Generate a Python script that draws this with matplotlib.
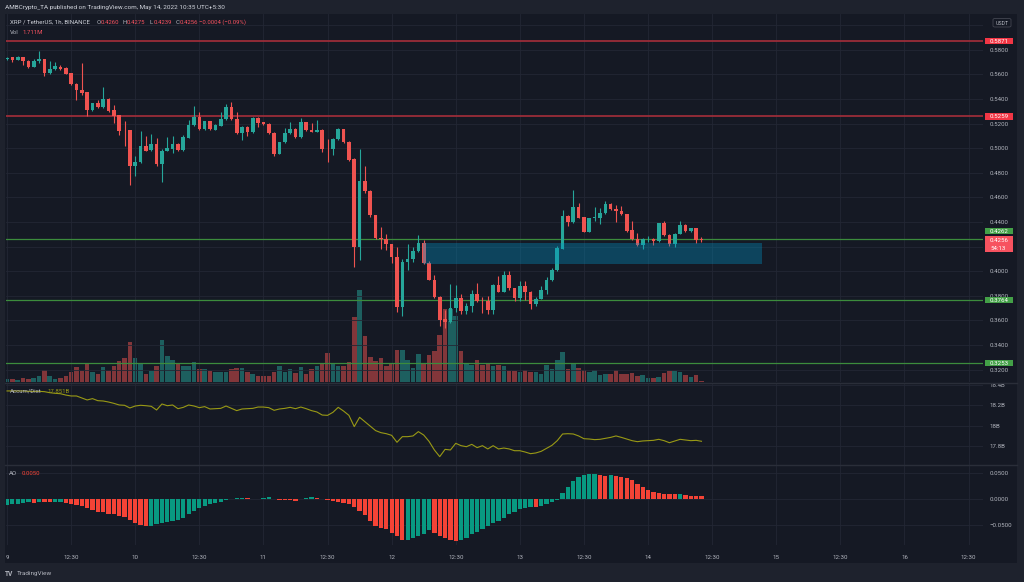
import numpy as np
import matplotlib.pyplot as plt
from matplotlib.colors import to_rgba
from matplotlib.lines import Line2D
from matplotlib.patches import Rectangle, FancyBboxPatch

plt.rcParams['font.family'] = ['Roboto', 'DejaVu Sans']

# -------------------------------
# 1. Data (XRP/USDT 1h)
# -------------------------------
opens = [
    0.5725, 0.5741, 0.5719, 0.5741, 0.5711, 0.5665, 0.5711, 0.5725, 0.5612, 0.5644,
    0.5665, 0.5649, 0.5612, 0.5522, 0.5476, 0.5454, 0.5314, 0.5368, 0.5333, 0.5401,
    0.5308, 0.5268, 0.5150, 0.5146, 0.4854, 0.4887, 0.5016, 0.4984, 0.5038, 0.4868,
    0.4981, 0.4998, 0.5038, 0.4984, 0.5084, 0.5192, 0.5255, 0.5157, 0.5219, 0.5152,
    0.5184, 0.5239, 0.5336, 0.5241, 0.5125, 0.5174, 0.5130, 0.5247, 0.5211, 0.5198,
    0.5125, 0.4955, 0.5049, 0.5125, 0.5157, 0.5089, 0.5211, 0.5152, 0.5133, 0.5152,
    0.4998, 0.4998, 0.5076, 0.5157, 0.5052, 0.4914, 0.4200, 0.4732, 0.4651, 0.4454,
    0.4273, 0.4260, 0.4219, 0.4116, 0.3711, 0.4076, 0.4097, 0.4165, 0.4227, 0.4065,
    0.3930, 0.3792, 0.3611, 0.3589, 0.3700, 0.3779, 0.3678, 0.3719, 0.3814, 0.3759,
    0.3754, 0.3684, 0.3889, 0.3835, 0.3968, 0.3860, 0.3781, 0.3876, 0.3832, 0.3732,
    0.3773, 0.3848, 0.3927, 0.4011, 0.4184, 0.4449, 0.4400, 0.4522, 0.4441, 0.4319,
    0.4436, 0.4430, 0.4471, 0.4549, 0.4509, 0.4489, 0.4462, 0.4333, 0.4260, 0.4211,
    0.4262, 0.4260, 0.4246, 0.4389, 0.4295, 0.4219, 0.4306, 0.4373, 0.4327, 0.4349,
    0.4260,
]
highs = [
    0.5745, 0.5745, 0.5750, 0.5745, 0.5719, 0.5730, 0.5792, 0.5730, 0.5706, 0.5698,
    0.5675, 0.5663, 0.5615, 0.5530, 0.5693, 0.5460, 0.5370, 0.5395, 0.5495, 0.5405,
    0.5354, 0.5270, 0.5225, 0.5150, 0.4935, 0.5138, 0.5097, 0.5117, 0.5084, 0.4990,
    0.5093, 0.5097, 0.5045, 0.5111, 0.5233, 0.5346, 0.5295, 0.5225, 0.5225, 0.5195,
    0.5295, 0.5363, 0.5379, 0.5295, 0.5180, 0.5180, 0.5255, 0.5255, 0.5215, 0.5205,
    0.5130, 0.5055, 0.5166, 0.5216, 0.5165, 0.5247, 0.5215, 0.5206, 0.5233, 0.5160,
    0.5079, 0.5080, 0.5165, 0.5160, 0.5060, 0.4920, 0.4990, 0.4852, 0.4660, 0.4460,
    0.4360, 0.4306, 0.4225, 0.4197, 0.4103, 0.4225, 0.4200, 0.4292, 0.4254, 0.4083,
    0.3968, 0.3800, 0.3686, 0.3895, 0.3886, 0.3814, 0.3740, 0.3848, 0.3908, 0.3787,
    0.3795, 0.3895, 0.3962, 0.4003, 0.4003, 0.3865, 0.3922, 0.3922, 0.3840, 0.3787,
    0.3881, 0.3954, 0.4030, 0.4205, 0.4495, 0.4455, 0.4659, 0.4552, 0.4445, 0.4435,
    0.4525, 0.4517, 0.4570, 0.4555, 0.4535, 0.4530, 0.4465, 0.4408, 0.4314, 0.4273,
    0.4285, 0.4270, 0.4395, 0.4408, 0.4300, 0.4310, 0.4408, 0.4380, 0.4355, 0.4355,
    0.4275,
]
lows = [
    0.5720, 0.5698, 0.5715, 0.5679, 0.5652, 0.5660, 0.5693, 0.5584, 0.5605, 0.5640,
    0.5640, 0.5600, 0.5518, 0.5389, 0.5435, 0.5265, 0.5300, 0.5330, 0.5330, 0.5292,
    0.5206, 0.5106, 0.5022, 0.4700, 0.4773, 0.4880, 0.4975, 0.4980, 0.4854, 0.4724,
    0.4975, 0.4963, 0.4980, 0.4980, 0.5080, 0.5185, 0.5150, 0.5150, 0.5150, 0.5145,
    0.5180, 0.5230, 0.5230, 0.5120, 0.5065, 0.5097, 0.5125, 0.5176, 0.5190, 0.5120,
    0.4935, 0.4950, 0.5045, 0.5120, 0.5085, 0.5080, 0.5140, 0.5130, 0.5130, 0.4968,
    0.4887, 0.4949, 0.5070, 0.5045, 0.4900, 0.4035, 0.4092, 0.4636, 0.4445, 0.4260,
    0.4178, 0.4170, 0.4065, 0.3668, 0.3638, 0.4011, 0.4076, 0.4160, 0.4060, 0.3925,
    0.3785, 0.3557, 0.3540, 0.3580, 0.3665, 0.3651, 0.3651, 0.3670, 0.3750, 0.3657,
    0.3651, 0.3651, 0.3830, 0.3830, 0.3850, 0.3759, 0.3760, 0.3768, 0.3692, 0.3719,
    0.3770, 0.3811, 0.3920, 0.4005, 0.4180, 0.4368, 0.4395, 0.4430, 0.4315, 0.4315,
    0.4408, 0.4381, 0.4465, 0.4495, 0.4400, 0.4455, 0.4320, 0.4255, 0.4205, 0.4178,
    0.4240, 0.4211, 0.4240, 0.4290, 0.4205, 0.4200, 0.4300, 0.4320, 0.4320, 0.4232,
    0.4239,
]
closes = [
    0.5738, 0.5719, 0.5746, 0.5711, 0.5660, 0.5711, 0.5725, 0.5616, 0.5646, 0.5671,
    0.5646, 0.5608, 0.5522, 0.5470, 0.5449, 0.5314, 0.5368, 0.5333, 0.5401, 0.5306,
    0.5260, 0.5144, 0.5146, 0.4854, 0.4887, 0.5016, 0.4981, 0.5038, 0.4868, 0.4981,
    0.5003, 0.5038, 0.4984, 0.5093, 0.5192, 0.5255, 0.5160, 0.5219, 0.5157, 0.5187,
    0.5239, 0.5336, 0.5239, 0.5125, 0.5174, 0.5133, 0.5247, 0.5206, 0.5198, 0.5125,
    0.4955, 0.5049, 0.5125, 0.5157, 0.5089, 0.5211, 0.5146, 0.5133, 0.5152, 0.4998,
    0.4995, 0.5076, 0.5157, 0.5052, 0.4908, 0.4197, 0.4732, 0.4651, 0.4454, 0.4268,
    0.4260, 0.4219, 0.4116, 0.3711, 0.4076, 0.4097, 0.4165, 0.4227, 0.4065, 0.3930,
    0.3792, 0.3605, 0.3589, 0.3700, 0.3779, 0.3678, 0.3719, 0.3814, 0.3759, 0.3756,
    0.3684, 0.3889, 0.3835, 0.3968, 0.3860, 0.3781, 0.3876, 0.3832, 0.3732, 0.3773,
    0.3848, 0.3927, 0.4011, 0.4192, 0.4449, 0.4400, 0.4522, 0.4436, 0.4319, 0.4430,
    0.4441, 0.4471, 0.4549, 0.4509, 0.4489, 0.4462, 0.4327, 0.4260, 0.4211, 0.4260,
    0.4265, 0.4246, 0.4389, 0.4295, 0.4219, 0.4306, 0.4373, 0.4327, 0.4349, 0.4254,
    0.4256,
]
# volume in millions of XRP
volume_m = [
    4.3, 5.3, 2.7, 6.9, 5.3, 6.4, 9.6, 18.7, 9.1, 4.3,
    6.9, 9.1, 15.5, 24.0, 17.1, 30.4, 15.5, 12.3, 24.0, 17.6,
    25.1, 33.1, 38.9, 64.0, 38.9, 29.9, 12.3, 18.1, 26.1, 67.7,
    42.1, 35.7, 28.3, 25.1, 25.1, 32.5, 21.3, 21.3, 18.1, 15.5,
    15.5, 16.5, 20.8, 22.4, 21.9, 15.5, 12.3, 9.1, 9.1, 10.1,
    16.5, 26.1, 15.5, 21.3, 13.9, 24.0, 12.5, 20.3, 25.6, 29.6,
    46.4, 29.1, 26.4, 26.4, 32.8, 104.0, 146.7, 73.6, 40.0, 33.6,
    38.9, 25.6, 30.9, 50.7, 50.7, 35.7, 22.4, 44.3, 29.3, 42.7,
    49.6, 74.7, 116.3, 117.3, 106.1, 49.1, 29.3, 26.7, 34.7, 26.7,
    29.3, 25.6, 27.7, 25.6, 17.1, 17.6, 16.0, 18.7, 16.0, 16.0,
    13.3, 26.7, 21.3, 35.7, 48.0, 21.3, 29.3, 22.4, 18.7, 16.0,
    18.7, 11.2, 13.3, 13.3, 18.7, 13.3, 13.3, 14.4, 9.1, 10.7,
    6.4, 6.4, 7.5, 14.4, 17.6, 17.1, 16.0, 10.7, 8.0, 10.7,
    1.711,
]
# Accumulation/Distribution in billions
accum_dist = [
    18.342, 18.342, 18.342, 18.342, 18.338, 18.338, 18.338, 18.335, 18.325, 18.319,
    18.315, 18.302, 18.293, 18.293, 18.273, 18.254, 18.267, 18.247, 18.244, 18.234,
    18.221, 18.205, 18.202, 18.176, 18.195, 18.202, 18.198, 18.192, 18.156, 18.215,
    18.198, 18.205, 18.169, 18.182, 18.205, 18.195, 18.179, 18.189, 18.166, 18.169,
    18.172, 18.195, 18.172, 18.150, 18.166, 18.169, 18.172, 18.185, 18.185, 18.179,
    18.153, 18.166, 18.172, 18.182, 18.169, 18.185, 18.169, 18.150, 18.137, 18.107,
    18.104, 18.133, 18.182, 18.146, 18.104, 17.994, 18.085, 18.042, 18.000, 17.955,
    17.935, 17.925, 17.909, 17.841, 17.896, 17.896, 17.903, 17.945, 17.912, 17.850,
    17.766, 17.701, 17.772, 17.766, 17.831, 17.808, 17.798, 17.821, 17.789, 17.808,
    17.776, 17.808, 17.776, 17.785, 17.776, 17.759, 17.759, 17.746, 17.730, 17.737,
    17.753, 17.782, 17.811, 17.857, 17.922, 17.925, 17.922, 17.903, 17.876, 17.873,
    17.867, 17.870, 17.880, 17.889, 17.903, 17.889, 17.873, 17.857, 17.847, 17.854,
    17.857, 17.860, 17.870, 17.857, 17.837, 17.854, 17.870, 17.863, 17.857, 17.860,
    17.851,
]
# Awesome Oscillator
ao_values = [
    -0.0115, -0.0103, -0.0090, -0.0077, -0.0064, -0.0071, -0.0051, -0.0058, -0.0064, -0.0058,
    -0.0051, -0.0077, -0.0096, -0.0115, -0.0141, -0.0179, -0.0218, -0.0250, -0.0256, -0.0282,
    -0.0295, -0.0321, -0.0346, -0.0404, -0.0468, -0.0500, -0.0519, -0.0513, -0.0487, -0.0455,
    -0.0436, -0.0423, -0.0404, -0.0359, -0.0295, -0.0231, -0.0179, -0.0128, -0.0090, -0.0071,
    -0.0051, -0.0026, -0.0006, 0.0019, 0.0026, 0.0019, 0.0006, 0.0000, 0.0013, 0.0032,
    0.0000, -0.0013, -0.0019, -0.0026, -0.0032, -0.0006, 0.0026, 0.0032, 0.0026, 0.0006,
    -0.0013, -0.0038, -0.0058, -0.0071, -0.0096, -0.0160, -0.0231, -0.0308, -0.0423, -0.0513,
    -0.0551, -0.0583, -0.0647, -0.0718, -0.0795, -0.0788, -0.0750, -0.0705, -0.0667, -0.0603,
    -0.0654, -0.0705, -0.0744, -0.0782, -0.0808, -0.0795, -0.0744, -0.0679, -0.0628, -0.0577,
    -0.0526, -0.0468, -0.0417, -0.0359, -0.0295, -0.0244, -0.0199, -0.0167, -0.0147, -0.0160,
    -0.0128, -0.0096, -0.0064, -0.0026, 0.0115, 0.0231, 0.0346, 0.0423, 0.0468, 0.0481,
    0.0487, 0.0455, 0.0449, 0.0462, 0.0449, 0.0429, 0.0404, 0.0359, 0.0295, 0.0231,
    0.0167, 0.0135, 0.0109, 0.0103, 0.0096, 0.0090, 0.0096, 0.0077, 0.0064, 0.0058,
    0.0050,
]

resistance_levels = [0.5871, 0.5259]
support_levels = [0.4262, 0.3764, 0.3253]
last_price = 0.4256
countdown = "54:13"
# demand zone (hours from May 9 00:00, price)
zone_start, zone_end = 77.8, 141.4
zone_low, zone_high = 0.4059, 0.4227

time_ticks = [0, 12, 24, 36, 48, 60, 72, 84, 96, 108, 120, 132, 144, 156, 168, 180]
time_labels = ["9", "12:30", "10", "12:30", "11", "12:30", "12", "12:30",
               "13", "12:30", "14", "12:30", "15", "12:30", "16", "12:30"]
price_ticks = [0.32, 0.34, 0.36, 0.38, 0.40, 0.42, 0.44, 0.46, 0.48,
               0.50, 0.52, 0.54, 0.56, 0.58, 0.60]
# 0.4200 and 0.6000 sit under the last-price tag and the USDT badge
hidden_ticks = [0.42, 0.60]
ad_ticks = [17.8, 18.0, 18.2, 18.4]
ad_labels = ["17.8B", "18B", "18.2B", "18.4B"]
ao_ticks = [-0.05, 0.0, 0.05]
ao_labels = ["\u22120.0500", "0.0000", "0.0500"]

# -------------------------------
# 2. Style
# -------------------------------
FRAME = "#1e222d"
BG = "#151924"
GRID = "#232734"
TEXT = "#b2b5be"
UP = "#26a69a"
DOWN = "#ef5350"
AO_UP = "#089981"
AO_DOWN = "#f44336"
TAG_RED = "#f23645"
TAG_GREEN = "#43a047"
W, H = 1024, 582
FS = 4.4


def fx(px):
    return px / W


def fy(py):
    return 1 - py / H


o = np.array(opens)
h = np.array(highs)
l = np.array(lows)
c = np.array(closes)
x = np.arange(len(o))
up = c >= o
candle_colors = np.where(up, UP, DOWN)
vol_colors = [to_rgba(col, 0.5) for col in candle_colors]
ao = np.array(ao_values)
ao_colors = [AO_UP] + [AO_UP if d >= 0 else AO_DOWN for d in np.diff(ao)]

fig = plt.figure(figsize=(10.24, 5.82), dpi=100)
fig.patch.set_facecolor(FRAME)
fig.add_artist(Rectangle((fx(5), fy(563)), fx(1017) - fx(5), fy(14) - fy(563),
                         transform=fig.transFigure, facecolor=BG,
                         edgecolor="none", zorder=-5))

left, width = fx(6), fx(983) - fx(6)
ax = fig.add_axes([left, fy(382), width, fy(14) - fy(382)])
ax_vol = ax.twinx()
ax.set_zorder(ax_vol.get_zorder() + 1)
ax_ad = fig.add_axes([left, fy(465), width, fy(383) - fy(465)], sharex=ax)
ax_ao = fig.add_axes([left, fy(545), width, fy(465) - fy(545)], sharex=ax)

for a in (ax, ax_vol, ax_ad, ax_ao):
    a.patch.set_visible(False)
    for s in a.spines.values():
        s.set_visible(False)

# -------------------------------
# 3. Price panel
# -------------------------------
ax_vol.bar(x, volume_m, width=0.85, color=vol_colors, zorder=1)
ax_vol.set_ylim(0, 590)
ax_vol.set_yticks([])

for lvl in resistance_levels:
    ax.axhline(lvl, color="#9b2c38", lw=1.3, zorder=1.5)
for lvl in support_levels:
    ax.axhline(lvl, color="#3c8c3c", lw=0.9, zorder=1.5)

ax.vlines(x, l, h, colors=candle_colors, lw=0.8, zorder=2)
ax.bar(x, np.maximum(np.abs(c - o), 0.00025), bottom=np.minimum(o, c),
       width=0.68, color=candle_colors, zorder=3)
ax.add_patch(Rectangle((zone_start, zone_low), zone_end - zone_start,
                       zone_high - zone_low, facecolor="#0096c8", alpha=0.35,
                       edgecolor="none", zorder=4))

ax.set_xlim(-0.19, 182.7)
ax.set_ylim(0.3099, 0.6092)
ax.set_yticks(price_ticks)
ax.set_yticklabels(["" if p in hidden_ticks else f"{p:.4f}" for p in price_ticks])
ax.yaxis.tick_right()

# -------------------------------
# 4. Accum/Dist panel
# -------------------------------
ax_ad.plot(x, accum_dist, color="#999915", lw=0.8)
ax_ad.set_ylim(17.6195, 18.4195)
ax_ad.set_yticks(ad_ticks)
ax_ad.set_yticklabels(ad_labels)
ax_ad.yaxis.tick_right()

# -------------------------------
# 5. Awesome Oscillator panel
# -------------------------------
ax_ao.bar(x, ao, width=0.8, color=ao_colors)
ax_ao.set_ylim(-0.0885, 0.0654)
ax_ao.set_yticks(ao_ticks)
ax_ao.set_yticklabels(ao_labels)
ax_ao.yaxis.tick_right()

ax.set_xticks(time_ticks)
ax_ao.set_xticklabels(time_labels)
for a in (ax, ax_ad, ax_ao):
    a.grid(True, color=GRID, lw=0.6)
    a.set_axisbelow(True)
    a.tick_params(axis="both", length=0, labelsize=FS, labelcolor=TEXT)
    a.tick_params(axis="y", pad=5)
    a.tick_params(axis="x", labelbottom=False, pad=7)
ax_ao.tick_params(axis="x", labelbottom=True)

# panel separators
for ysep in (383, 465):
    fig.add_artist(Line2D([fx(5), fx(1017)], [fy(ysep), fy(ysep)],
                          transform=fig.transFigure, color="#2a2e39", lw=1))


# -------------------------------
# 6. Price scale tags
# -------------------------------
def y_of(price):
    return H - ax.transData.transform((0, price))[1]


def tag(center, text, color, half=3.2):
    fig.add_artist(Rectangle((fx(985), fy(center + half)), fx(1012.7) - fx(985),
                             2 * half / H, transform=fig.transFigure,
                             facecolor=color, edgecolor="none", zorder=6))
    fig.text(fx(990), fy(center), text, color="white", fontsize=FS,
             va="center_baseline", ha="left", zorder=7)


for lvl in resistance_levels:
    tag(y_of(lvl), f"{lvl:.4f}", TAG_RED)
tag(y_of(support_levels[0]) - 8.2, f"{support_levels[0]:.4f}", TAG_GREEN)
for lvl in support_levels[1:]:
    tag(y_of(lvl), f"{lvl:.4f}", TAG_GREEN)

yl = y_of(last_price)
fig.add_artist(Rectangle((fx(985), fy(yl + 12)), fx(1012.7) - fx(985), 16 / H,
                         transform=fig.transFigure, facecolor="#f7525f",
                         edgecolor="none", zorder=6))
fig.text(fx(990), fy(yl + 0.2), f"{last_price:.4f}", color="white",
         fontsize=FS, va="center_baseline", zorder=7)
fig.text(fx(990), fy(yl + 8.5), countdown, color="white", fontsize=FS,
         va="center_baseline", zorder=7)

fig.add_artist(FancyBboxPatch((fx(993), fy(27)), fx(1011) - fx(993), 8.5 / H,
                              boxstyle="round,pad=0,rounding_size=0.002",
                              transform=fig.transFigure, facecolor=BG,
                              edgecolor="#434651", lw=0.6, zorder=6))
fig.text(fx(1002), fy(22.8), "USDT", color=TEXT, fontsize=3.8,
         ha="center", va="center_baseline", zorder=7)

# -------------------------------
# 7. Header / legends / footer
# -------------------------------
HS = 4.3
fig.text(fx(5), fy(6.7), "AMBCrypto_TA published on TradingView.com, May 14, 2022 10:35 UTC+5:30",
         color="#d1d4dc", fontsize=4.6, va="center_baseline")
fig.text(fx(10), fy(21.7), "XRP / TetherUS, 1h, BINANCE", color="#d1d4dc",
         fontsize=4.4, va="center_baseline")
ohlc_parts = [("O", 96.7, f"{opens[-1]:.4f}"), ("H", 122.7, f"{highs[-1]:.4f}"),
              ("L", 150, f"{lows[-1]:.4f}"), ("C", 176, f"{closes[-1]:.4f}")]
for key, xp, val in ohlc_parts:
    fig.text(fx(xp), fy(21.7), key, color=TEXT, fontsize=HS, va="center_baseline")
    fig.text(fx(xp + 3.5), fy(21.7), val, color="#f7525f", fontsize=HS,
             va="center_baseline")
chg = closes[-1] - opens[-1]
fig.text(fx(199), fy(21.7),
         f"{chg:+.4f} ({chg / opens[-1] * 100:+.2f}%)".replace("-", "\u2212"),
         color="#f7525f", fontsize=HS, va="center_baseline")
fig.text(fx(10), fy(31.7), "Vol", color=TEXT, fontsize=HS, va="center_baseline")
fig.text(fx(22.7), fy(31.7), f"{volume_m[-1]:.3f}M", color="#f7525f",
         fontsize=HS, va="center_baseline")

fig.text(fx(9.7), fy(390.7), "Accum/Dist", color=TEXT, fontsize=HS,
         va="center_baseline")
fig.text(fx(47), fy(390.7), f"{accum_dist[-1]:.3f}B", color="#999915",
         fontsize=HS, va="center_baseline")
fig.text(fx(9.2), fy(473.3), "AO", color=TEXT, fontsize=HS, va="center_baseline")
fig.text(fx(21.6), fy(473.3), f"{ao_values[-1]:.4f}", color=AO_DOWN,
         fontsize=HS, va="center_baseline")

fig.text(fx(5), fy(572.5), "TV", color=TEXT, fontsize=4.8, fontweight="bold",
         va="center_baseline")
fig.text(fx(17.3), fy(572.5), "TradingView", color=TEXT, fontsize=4.6,
         va="center_baseline")

fig.savefig("out.png", dpi=100, facecolor=fig.get_facecolor())
